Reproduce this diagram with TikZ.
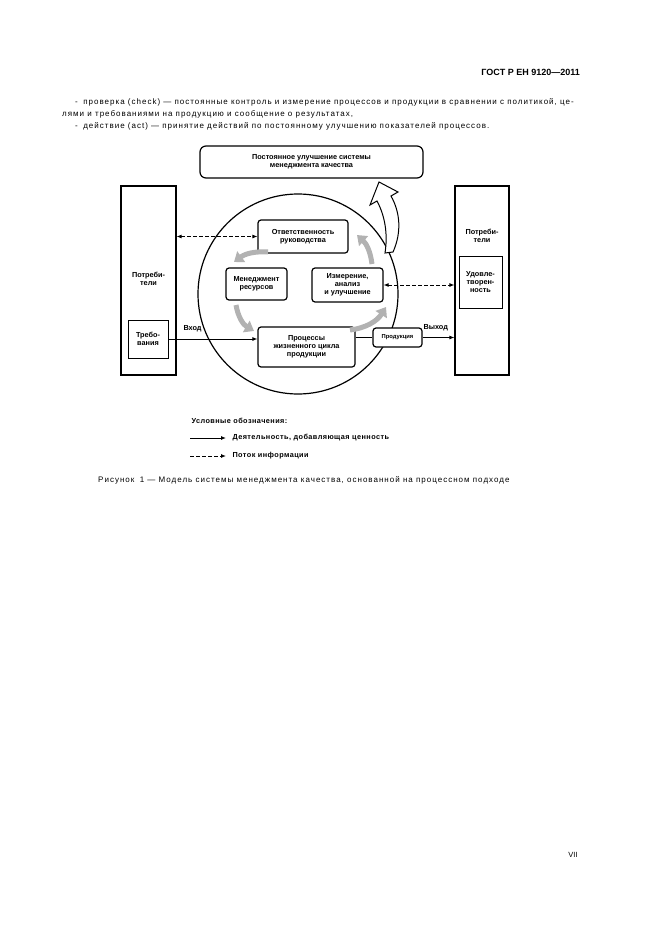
\documentclass[tikz,border=0pt]{standalone}
\usepackage{fontspec}
\setmainfont{Liberation Sans}
\usetikzlibrary{arrows.meta}
\begin{document}
\begin{tikzpicture}[x=1pt,y=-1pt,
  box/.style={draw,line width=1.2pt,rounded corners=3pt,align=center,font=\fontsize{7.3}{8}\selectfont\bfseries,inner sep=1pt},
  tall/.style={draw,line width=1.2pt},
  flow/.style={line width=0.9pt,-{Latex[length=5pt,width=4pt]}},
  info/.style={line width=0.9pt,dashed,dash pattern=on 4pt off 2pt,{Latex[length=5pt,width=4pt]}-{Latex[length=5pt,width=4pt]}},
  cyc/.style={line width=5pt,gray!60,-{Triangle[length=9pt,width=13pt]}},
  lbl/.style={font=\fontsize{7.3}{8}\selectfont\bfseries,align=center},
  leg/.style={font=\fontsize{7.3}{8}\selectfont\bfseries\addfontfeature{LetterSpace=6},anchor=west},
  txt/.style={font=\fontsize{8}{9}\selectfont\addfontfeature{LetterSpace=12.5},anchor=west,inner sep=0}]
\useasboundingbox (0,0) rectangle (661,936);
\node[font=\fontsize{9}{10}\selectfont\bfseries,anchor=east,inner sep=0] (hdr) at (580,72) {ГОСТ Р ЕН 9120—2011};
\node[txt] (p1) at (75,102) {-\; проверка (check) — постоянные контроль и измерение процессов и продукции в сравнении с политикой, це-};
\node[txt] (p2) at (62,114) {лями и требованиями на продукцию и сообщение о результатах,};
\node[txt] (p3) at (75,126) {-\; действие (act) — принятие действий по постоянному улучшению показателей процессов.};

\node[box,minimum width=223pt,minimum height=32pt,rounded corners=6pt] (top) at (311.5,162) {Постоянное улучшение системы\\менеджмента качества};
\node[tall,minimum width=55pt,minimum height=189pt] (L) at (148.5,280.5) {};
\node[tall,minimum width=54pt,minimum height=189pt] (R) at (482,280.5) {};
\node[lbl] (Lt) at (148.5,279) {Потреби-\\тели};
\node[lbl] (Rt) at (482,236) {Потреби-\\тели};
\node[draw,line width=1pt,minimum width=40pt,minimum height=38pt,lbl] (req) at (148,339) {Требо-\\вания};
\node[draw,line width=1pt,minimum width=43pt,minimum height=52pt,lbl] (sat) at (480.5,282) {Удовле-\\творен-\\ность};

\draw[line width=1.2pt] (298,294) circle (100);
\node[box,minimum width=90pt,minimum height=33pt,fill=white] (resp) at (303,236.5) {Ответственность\\руководства};
\node[box,minimum width=61pt,minimum height=32pt,fill=white] (res) at (256.5,284) {Менеджмент\\ресурсов};
\node[box,minimum width=71pt,minimum height=34pt,fill=white] (meas) at (347.5,285) {Измерение,\\анализ\\и улучшение};
\node[box,minimum width=97pt,minimum height=40pt,fill=white] (proc) at (306.5,347) {Процессы\\жизненного цикла\\продукции};
\node[box,minimum width=49pt,minimum height=19pt,fill=white,font=\fontsize{5.8}{6.5}\selectfont\bfseries] (prod) at (397.5,337.5) {Продукция};

\draw[info] (L.east |- resp) -- (resp.west);
\draw[info] (meas.east) -- (R.west |- meas);
\draw[flow] (req.east) -- (proc.west |- req);
\draw[line width=0.9pt] (proc.east |- prod) -- (prod.west);
\draw[flow] (prod.east) -- (R.west |- prod);
\node[lbl,anchor=south west] (in) at (180,335) {Вход};
\node[lbl,anchor=south west] (out) at (420,334) {Выход};

\draw[cyc] (268,252) to[bend right=20] (234,262);
\draw[cyc] (236,305) to[bend right=25] (254,331);
\draw[cyc] (350,330) to[bend right=25] (386,307);
\draw[cyc] (372,264) to[bend right=20] (357,235);

\filldraw[fill=white,line width=1pt] (393,252) .. controls (402,232) and (400,212) .. (391,196)
  -- (398,192) -- (379,182) -- (370,205) -- (377,201)
  .. controls (385,216) and (388,234) .. (385,253) -- cycle;

\node[leg] (lg) at (188,421) {Условные обозначения:};
\coordinate (a1) at (190,438); \coordinate (a2) at (226,438);
\draw[flow] (a1) -- (a2);
\node[leg] (l1) at (229,438) {Деятельность, добавляющая ценность};
\coordinate (b1) at (190,456); \coordinate (b2) at (226,456);
\draw[line width=0.9pt,dash pattern=on 4pt off 2pt,-{Latex[length=5pt,width=4pt]}] (b1) -- (b2);
\node[leg] (l2) at (229,456) {Поток информации};
\node[txt] (cap) at (98,480) {Рисунок\; 1 — Модель системы менеджмента качества, основанной на процессном подходе};
\node[font=\fontsize{7.5}{8}\selectfont,inner sep=0] (pg) at (573,855) {VII};
\end{tikzpicture}
\end{document}
